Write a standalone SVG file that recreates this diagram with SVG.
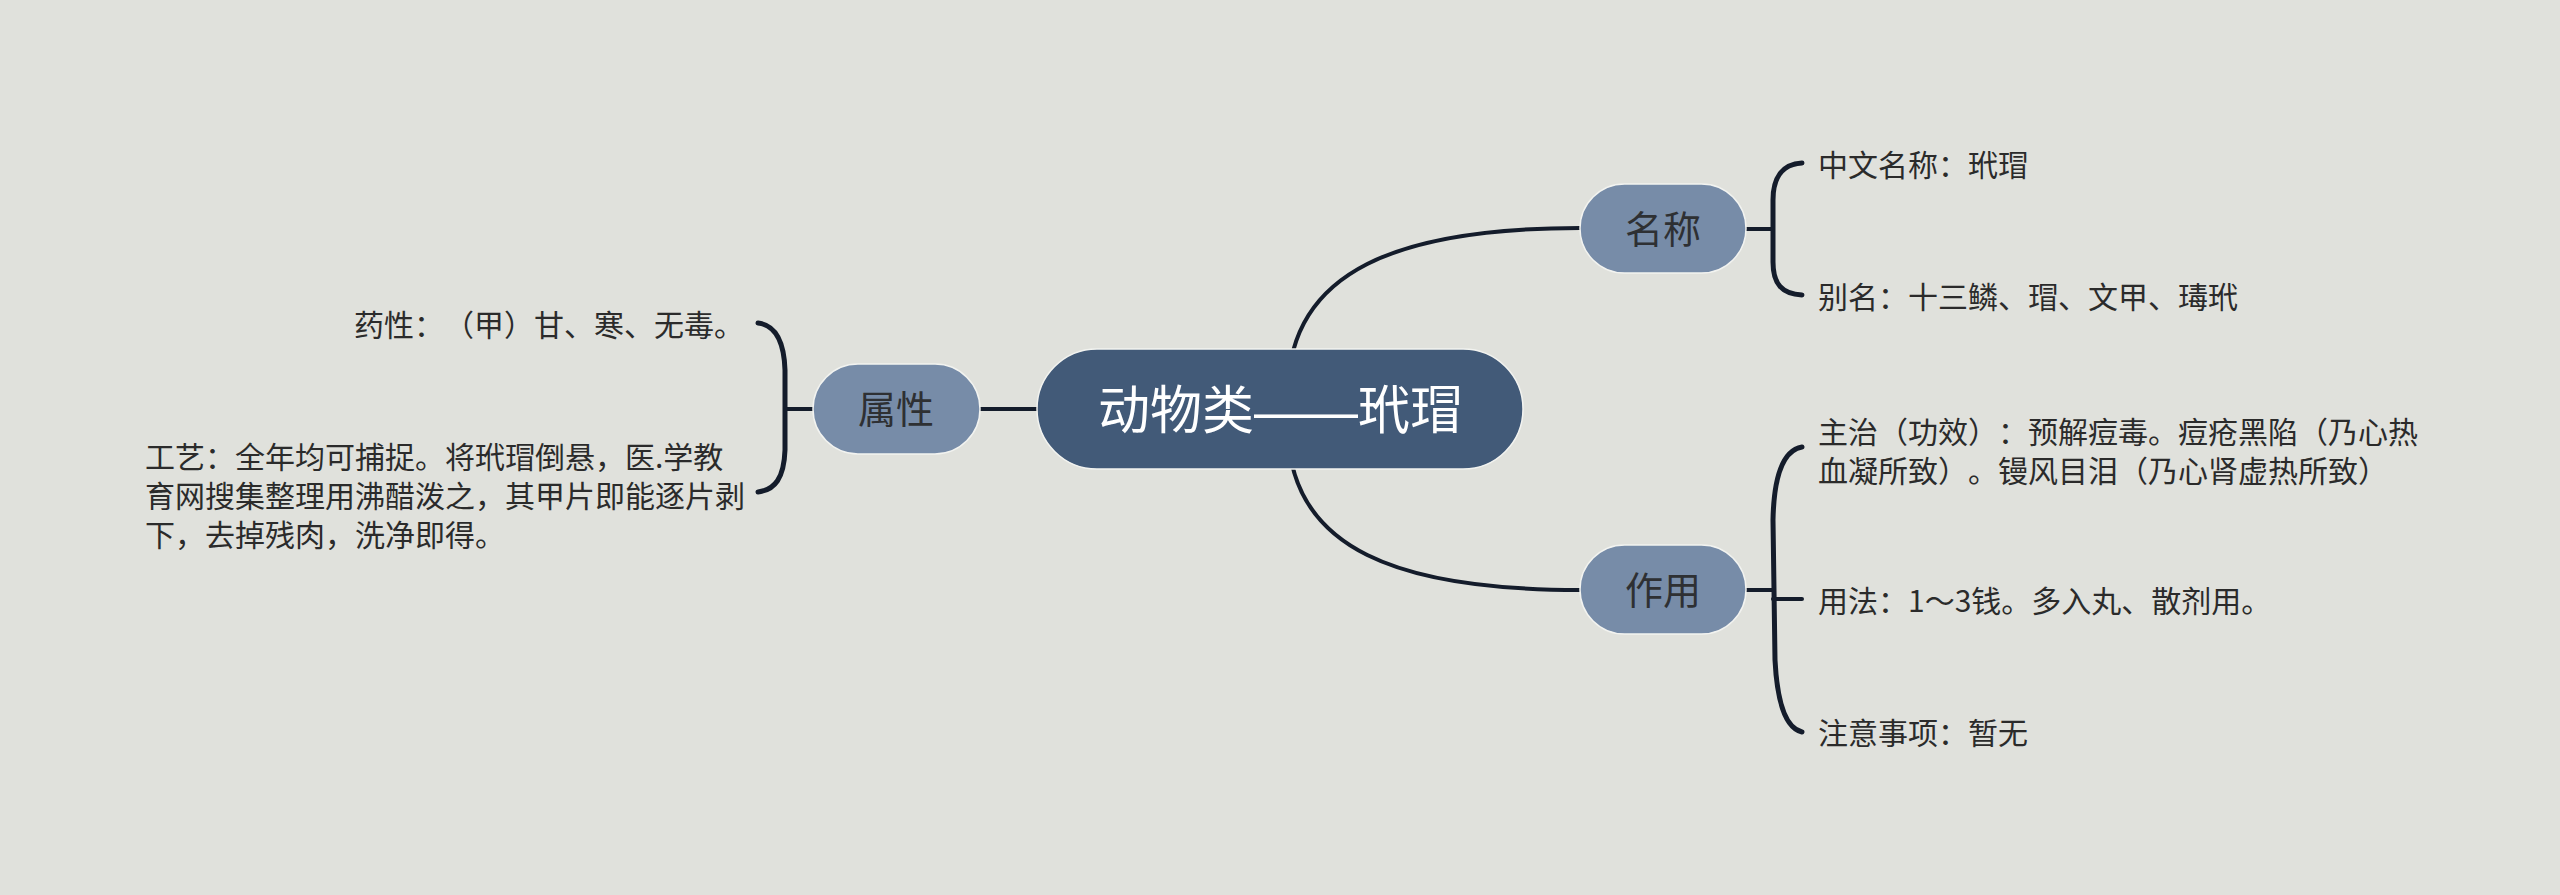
<svg xmlns="http://www.w3.org/2000/svg" width="2560" height="895" viewBox="0 0 2560 895">
<style>
.bg{fill:#e0e1dc}
.sub{fill:#778ca8;stroke:#f2f3f0;stroke-width:1.5}
.root{fill:#425a78;stroke:#f2f3f0;stroke-width:1.5}
text{text-spacing-trim:space-all}
.lbl{font-family:"Noto Sans CJK SC","Noto Sans",sans-serif;fill:#2e3033;font-size:38px;text-anchor:middle}
.rlbl{font-family:"Noto Sans CJK SC","Noto Sans",sans-serif;fill:#ffffff;font-size:52px;text-anchor:middle}
.dash{font-family:"Liberation Sans",sans-serif}
.leaf{font-family:"Noto Sans CJK SC","Noto Sans",sans-serif;fill:#2b2b2b;font-size:30px}
.ln{fill:none;stroke:#141c2b;stroke-width:4;stroke-linecap:round}
.br{fill:none;stroke:#141c2b;stroke-width:5;stroke-linecap:round}
</style>
<rect class="bg" x="0" y="0" width="2560" height="895"/>
<g id="connectors">
<path class="ln" d="M1288,390 C1290,270 1400,228 1580,228"/>
<path class="ln" d="M1288,430 C1290,550 1400,590 1580,590"/>
<path class="ln" d="M980,409 L1037,409"/>
<path class="ln" d="M785,409 L813,409"/>
<path class="ln" d="M1746,229 L1773,229"/>
<path class="ln" d="M1746,590 L1773,590"/>
<path class="ln" d="M1773,599 L1802,599"/>
<path class="br" d="M1802,163 C1782,164 1773,178 1773,200 L1773,262 C1773,284 1782,294 1802,295"/>
<path class="br" d="M1802,447 C1785,450 1774,470 1773,520 L1775,660 C1777,700 1785,728 1802,732"/>
<path class="br" d="M758,323 C775,325 784,340 785,370 L785,450 C784,478 775,490 758,492"/>
</g>
<g id="root">
<rect class="root" x="1037" y="349" width="486" height="120" rx="60"/>
<text class="rlbl" x="1280" y="429">动物类<tspan class="dash">——</tspan>玳瑁</text>
</g>
<g id="node-mingcheng">
<rect class="sub" x="1580" y="184" width="166" height="89" rx="44.5"/>
<text class="lbl" x="1663" y="243">名称</text>
</g>
<g id="node-zuoyong">
<rect class="sub" x="1580" y="545" width="166" height="89" rx="44.5"/>
<text class="lbl" x="1663" y="604">作用</text>
</g>
<g id="node-shuxing">
<rect class="sub" x="813" y="364" width="167" height="90" rx="45"/>
<text class="lbl" x="896" y="423">属性</text>
</g>
<g id="leaf-zhongwen"><text class="leaf" x="1818" y="176">中文名称：玳瑁</text></g>
<g id="leaf-bieming"><text class="leaf" x="1818" y="308">别名：十三鳞、瑁、文甲、瑇玳</text></g>
<g id="leaf-zhuzhi"><text class="leaf" x="1818" y="443">主治（功效）：预解痘毒。痘疮黑陷（乃心热</text><text class="leaf" x="1818" y="482">血凝所致）。镘风目泪（乃心肾虚热所致）</text></g>
<g id="leaf-yongfa"><text class="leaf" x="1818" y="612">用法：1～3钱。多入丸、散剂用。</text></g>
<g id="leaf-zhuyi"><text class="leaf" x="1818" y="744">注意事项：暂无</text></g>
<g id="leaf-yaoxing"><text class="leaf" x="744" y="336" text-anchor="end">药性：（甲）甘、寒、无毒。</text></g>
<g id="leaf-gongyi"><text class="leaf" x="145" y="468">工艺：全年均可捕捉。将玳瑁倒悬，医.学教</text><text class="leaf" x="145" y="507">育网搜集整理用沸醋泼之，其甲片即能逐片剥</text><text class="leaf" x="145" y="546">下，去掉残肉，洗净即得。</text></g>
</svg>
